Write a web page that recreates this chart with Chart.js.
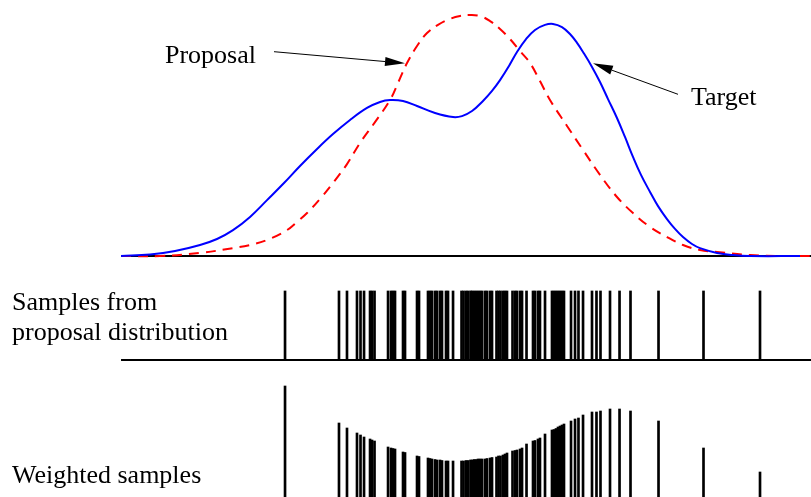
<!DOCTYPE html>
<html>
<head>
<meta charset="utf-8">
<script src="https://cdn.jsdelivr.net/npm/chart.js@4"></script>
<style>
  html, body { margin: 0; padding: 0; background: #ffffff; }
  #wrap { width: 811px; height: 497px; position: relative; }
</style>
</head>
<body>
<div id="wrap"><canvas id="c" width="811" height="497"></canvas></div>
<script>
// ---- Data (x in arbitrary units 0..10, densities normalised) ----
const targetX = [0.000,0.420,0.783,1.145,1.391,1.623,1.870,2.116,2.362,2.594,2.841,3.072,3.319,3.565,3.754,3.899,4.087,4.290,4.551,4.812,4.942,5.087,5.246,5.377,5.493,5.623,5.739,5.870,6.000,6.145,6.261,6.391,6.507,6.609,6.696,6.826,6.942,7.058,7.188,7.304,7.420,7.536,7.667,7.783,7.913,8.029,8.145,8.275,8.391,8.638,8.870,9.116,9.841];
const targetY = [0.000,0.006,0.021,0.046,0.071,0.108,0.163,0.233,0.304,0.375,0.446,0.508,0.567,0.617,0.642,0.650,0.646,0.625,0.596,0.579,0.583,0.604,0.646,0.688,0.733,0.792,0.850,0.904,0.942,0.963,0.967,0.954,0.925,0.888,0.850,0.788,0.725,0.654,0.575,0.496,0.413,0.338,0.267,0.208,0.154,0.113,0.079,0.050,0.033,0.013,0.004,0.000,0.000];

const proposalX = [0.000,0.565,1.145,1.623,1.870,2.116,2.406,2.551,2.696,2.884,3.072,3.275,3.464,3.681,3.899,4.014,4.145,4.290,4.435,4.594,4.768,4.913,5.058,5.203,5.348,5.493,5.638,5.783,5.928,6.072,6.217,6.464,6.696,6.942,7.188,7.420,7.667,7.913,8.145,8.391,8.638,9.116,9.551,10.000];
const proposalY = [0.000,0.000,0.013,0.033,0.046,0.067,0.108,0.142,0.179,0.238,0.304,0.383,0.471,0.558,0.650,0.721,0.804,0.875,0.929,0.963,0.988,1.000,1.004,1.000,0.979,0.946,0.904,0.854,0.804,0.729,0.650,0.542,0.442,0.338,0.246,0.179,0.121,0.079,0.046,0.025,0.017,0.004,0.000,0.000];

const sampleX = [2.377,3.159,3.275,3.420,3.471,3.522,3.609,3.638,3.674,3.870,3.913,3.942,3.971,4.087,4.116,4.290,4.319,4.449,4.478,4.507,4.551,4.580,4.623,4.652,4.710,4.739,4.812,4.935,4.964,5.000,5.029,5.065,5.087,5.116,5.145,5.174,5.203,5.232,5.275,5.304,5.348,5.377,5.442,5.471,5.500,5.536,5.565,5.594,5.674,5.710,5.739,5.783,5.812,5.877,5.971,6.000,6.043,6.072,6.145,6.246,6.275,6.304,6.333,6.362,6.391,6.420,6.522,6.580,6.630,6.696,6.826,6.891,6.949,7.087,7.225,7.384,7.790,8.442,9.261];
const sampleWeight = [1.11,0.74,0.69,0.64,0.62,0.60,0.58,0.57,0.56,0.50,0.49,0.485,0.48,0.45,0.445,0.41,0.405,0.39,0.385,0.38,0.375,0.37,0.37,0.365,0.36,0.36,0.36,0.36,0.36,0.365,0.365,0.37,0.37,0.375,0.375,0.38,0.38,0.38,0.38,0.385,0.39,0.395,0.40,0.41,0.41,0.42,0.43,0.44,0.46,0.465,0.47,0.48,0.49,0.53,0.56,0.565,0.58,0.59,0.63,0.67,0.675,0.685,0.70,0.71,0.72,0.73,0.76,0.78,0.79,0.82,0.85,0.85,0.86,0.88,0.88,0.86,0.76,0.49,0.25];

const axisLineX = [0, 10];
const labels = {
  proposal: "Proposal",
  target: "Target",
  samples1: "Samples from",
  samples2: "proposal distribution",
  weighted: "Weighted samples"
};

// ---- Build datasets ----
const zip = (xs, ys) => xs.map((x, i) => ({ x: x, y: ys[i] }));

const annot = {
  id: 'annot',
  afterDraw(chart) {
    const ctx = chart.ctx;
    ctx.save();
    ctx.fillStyle = '#000';
    ctx.font = "26px 'Liberation Serif', 'Times New Roman', serif";
    ctx.textBaseline = 'alphabetic';
    ctx.textAlign = 'left';
    ctx.fillText(labels.proposal, 165, 63);
    ctx.fillText(labels.target, 691, 105);
    ctx.fillText(labels.samples1, 12, 310);
    ctx.fillText(labels.samples2, 12, 340);
    ctx.fillText(labels.weighted, 12, 483);

    function arrow(x1, y1, x2, y2) {
      const ang = Math.atan2(y2 - y1, x2 - x1);
      const L = 20, W = 4.6;
      const bx = x2 - L * Math.cos(ang), by = y2 - L * Math.sin(ang);
      ctx.strokeStyle = '#000';
      ctx.lineWidth = 1;
      ctx.beginPath();
      ctx.moveTo(x1, y1);
      ctx.lineTo(bx, by);
      ctx.stroke();
      ctx.beginPath();
      ctx.moveTo(x2, y2);
      ctx.lineTo(bx - W * Math.sin(ang), by + W * Math.cos(ang));
      ctx.lineTo(bx + W * Math.sin(ang), by - W * Math.cos(ang));
      ctx.closePath();
      ctx.fill();
    }
    arrow(274, 51.7, 405, 63.3);
    arrow(678, 94.3, 593, 63.3);
    ctx.restore();
  }
};

new Chart(document.getElementById('c'), {
  type: 'line',
  data: {
    datasets: [
      {
        type: 'line', label: 'axis1', yAxisID: 'yd',
        data: zip(axisLineX, [0, 0]),
        borderColor: '#000', borderWidth: 2, pointRadius: 0, order: 5
      },
      {
        type: 'line', label: 'axis2', yAxisID: 'ys',
        data: zip(axisLineX, [0, 0]),
        borderColor: '#000', borderWidth: 2, pointRadius: 0, order: 5
      },
      {
        type: 'line', label: 'Proposal', yAxisID: 'yd',
        data: zip(proposalX, proposalY),
        borderColor: '#ff0000', borderWidth: 2, borderDash: [10, 7],
        pointRadius: 0, tension: 0.4, order: 2
      },
      {
        type: 'line', label: 'Target', yAxisID: 'yd',
        data: zip(targetX, targetY),
        borderColor: '#0000ff', borderWidth: 2,
        pointRadius: 0, tension: 0.4, order: 1
      },
      {
        type: 'bar', label: 'Samples', yAxisID: 'ys',
        data: sampleX.map(x => ({ x: x, y: 1 })),
        backgroundColor: '#000', borderWidth: 0,
        barThickness: 2, grouped: false, order: 3
      },
      {
        type: 'bar', label: 'Weighted', yAxisID: 'yw',
        data: zip(sampleX, sampleWeight),
        backgroundColor: '#000', borderWidth: 0,
        barThickness: 2, grouped: false, order: 3
      }
    ]
  },
  options: {
    responsive: false,
    animation: false,
    devicePixelRatio: 1,
    layout: { padding: 0 },
    plugins: { legend: { display: false }, tooltip: { enabled: false } },
    scales: {
      x: { type: 'linear', min: -1.754, max: 10, offset: false, display: false },
      yd: { type: 'linear', min: -1.004, max: 1.0667, display: false },
      ys: { type: 'linear', min: -1.986, max: 5.217, display: false },
      yw: { type: 'linear', min: 0, max: 4.97, display: false }
    }
  },
  plugins: [annot]
});
</script>
</body>
</html>
